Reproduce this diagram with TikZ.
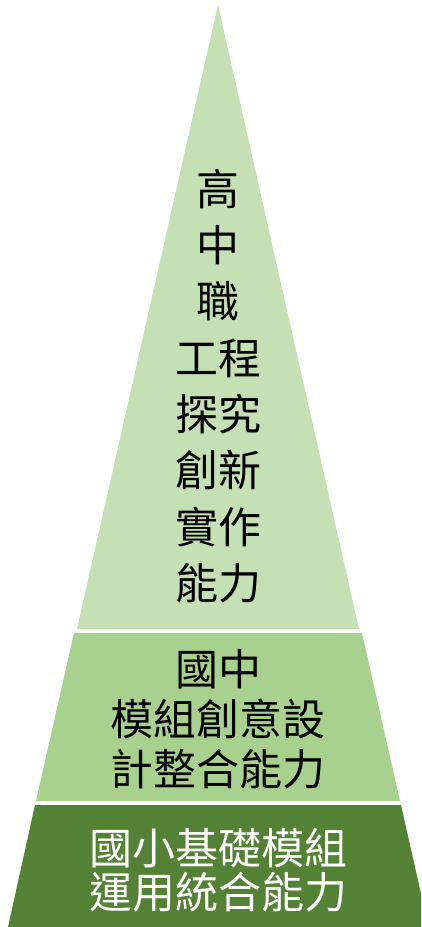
\documentclass[tikz,border=0pt]{standalone}
\usepackage{fontspec}
\newfontfamily\cjk{Noto Sans CJK TC}
\definecolor{toplayer}{HTML}{C5E0B4}
\definecolor{midlayer}{HTML}{A9D18E}
\definecolor{botlayer}{HTML}{548235}
\begin{document}
\begin{tikzpicture}[x=1pt,y=-1pt,
  layertext/.style={align=center,inner sep=0pt,font=\cjk\fontsize{43}{56}\selectfont}]
\useasboundingbox (0,0) rectangle (421,927);
\fill[toplayer] (218,5) -- (359,629) -- (77,629) -- cycle;
\fill[midlayer] (74,633) -- (362,633) -- (400,801) -- (36,801) -- cycle;
\fill[botlayer] (35,805) -- (401,805) -- (421,893.5) -- (421,927) -- (8,927) -- cycle;
\node[layertext,font=\cjk\fontsize{43}{56.3}\selectfont] (top) at (218,386) {高\\中\\職\\工程\\探究\\創新\\實作\\能力};
\node[layertext,font=\cjk\fontsize{43}{50}\selectfont] (mid) at (218,719) {國中\\模組創意設\\計整合能力};
\node[layertext,font=\cjk\fontsize{43}{44}\selectfont,text=white] (bot) at (218,870) {國小基礎模組\\運用統合能力};
\end{tikzpicture}
\end{document}
